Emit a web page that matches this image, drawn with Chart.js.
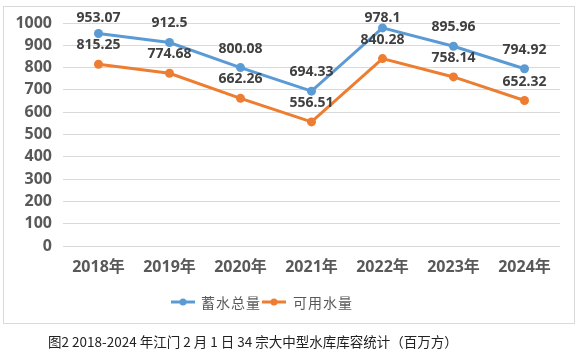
<!DOCTYPE html>
<html><head><meta charset="utf-8">
<script src="https://cdn.jsdelivr.net/npm/chart.js@4.4.1/dist/chart.umd.min.js"></script>
<style>
html,body{margin:0;padding:0;background:#fff;}
#wrap{position:relative;width:581px;height:352px;overflow:hidden;}
#box{position:absolute;left:3px;top:6px;width:572px;height:318px;border:1px solid #d9d9d9;box-sizing:border-box;}
#c{position:absolute;left:0;top:0;}
#cap{position:absolute;left:48px;top:331px;text-align:left;font:13.5px "Noto Sans CJK SC","Noto Sans",sans-serif;letter-spacing:0px;color:#222;white-space:nowrap;}
</style></head>
<body><div id="wrap"><div id="box"></div><canvas id="c" width="581" height="352"></canvas>
<div id="cap">图2 2018-2024 年江门 2 月 1 日 34 宗大中型水库库容统计（百万方）</div></div>
<script>
const categories = ["2018年","2019年","2020年","2021年","2022年","2023年","2024年"];
const storageTotal = [953.07, 912.5, 800.08, 694.33, 978.1, 895.96, 794.92];
const usableWater = [815.25, 774.68, 662.26, 556.51, 840.28, 758.14, 652.32];
const seriesNames = ["蓄水总量","可用水量"];
const yTicks = [0,100,200,300,400,500,600,700,800,900,1000];
const colors = ["#5B9BD5","#ED7D31"];

const labelPlugin = {
  id:'vals',
  afterDatasetsDraw(chart){
    const ctx = chart.ctx;
    ctx.save();
    ctx.font = 'bold 14px "Noto Sans", sans-serif';
    ctx.fillStyle = '#404040';
    ctx.textAlign = 'center';
    ctx.textBaseline = 'middle';
    chart.data.datasets.forEach((ds,i)=>{
      chart.getDatasetMeta(i).data.forEach((pt,j)=>{
        const y = Math.max(pt.y - 19, 18);
        ctx.fillText(String(ds.data[j]), pt.x, y);
      });
    });
    ctx.restore();
  }
};
const legendPlugin = {
  id:'leg',
  afterDraw(chart){
    const ctx = chart.ctx;
    ctx.save();
    const y = 302;
    const items = [{x:171, t:201},{x:262, t:293}];
    ctx.font = '14px "Noto Sans CJK SC", sans-serif';
    ctx.textBaseline = 'middle';
    ctx.textAlign = 'left';
    items.forEach((it,i)=>{
      ctx.strokeStyle = colors[i]; ctx.lineWidth = 3;
      ctx.beginPath(); ctx.moveTo(it.x, y); ctx.lineTo(it.x+24, y); ctx.stroke();
      ctx.fillStyle = colors[i];
      ctx.beginPath(); ctx.arc(it.x+12, y, 3.5, 0, Math.PI*2); ctx.fill();
      ctx.fillStyle = '#595959';
      if (ctx.letterSpacing !== undefined) ctx.letterSpacing = '1px';
      ctx.fillText(seriesNames[i], it.t, y + 1);
    });
    ctx.restore();
  }
};

new Chart(document.getElementById('c'), {
  type:'line',
  data:{
    labels: categories,
    datasets:[
      {label:seriesNames[0], data:storageTotal, borderColor:colors[0], backgroundColor:colors[0], borderWidth:3, pointRadius:4.5, pointBackgroundColor:colors[0], pointBorderWidth:0, tension:0},
      {label:seriesNames[1], data:usableWater, borderColor:colors[1], backgroundColor:colors[1], borderWidth:3, pointRadius:4.5, pointBackgroundColor:colors[1], pointBorderWidth:0, tension:0}
    ]
  },
  options:{
    responsive:false, animation:false, devicePixelRatio:1,
    layout:{padding:{left:0,right:21,top:23,bottom:66}},
    plugins:{legend:{display:false}, tooltip:{enabled:false}},
    scales:{
      x:{
        offset:true,
        grid:{display:false, drawTicks:false},
        border:{display:false},
        ticks:{padding:12, color:'#595959', font:{family:'"Noto Sans","Noto Sans CJK SC",sans-serif', size:16, weight:'bold'}, maxRotation:0},
        afterFit(s){ s.height = 40; }
      },
      y:{
        min:0, max:1000,
        afterBuildTicks(s){ s.ticks = yTicks.map(v=>({value:v})); },
        grid:{color:'#d9d9d9', lineWidth:1, drawTicks:false},
        border:{display:false},
        ticks:{padding:11, color:'#595959', font:{family:'"Noto Sans",sans-serif', size:16, weight:'bold'}, callback:(v)=>String(v)},
        afterFit(s){ s.width = 63; }
      }
    }
  },
  plugins:[labelPlugin, legendPlugin]
});
</script></body></html>
